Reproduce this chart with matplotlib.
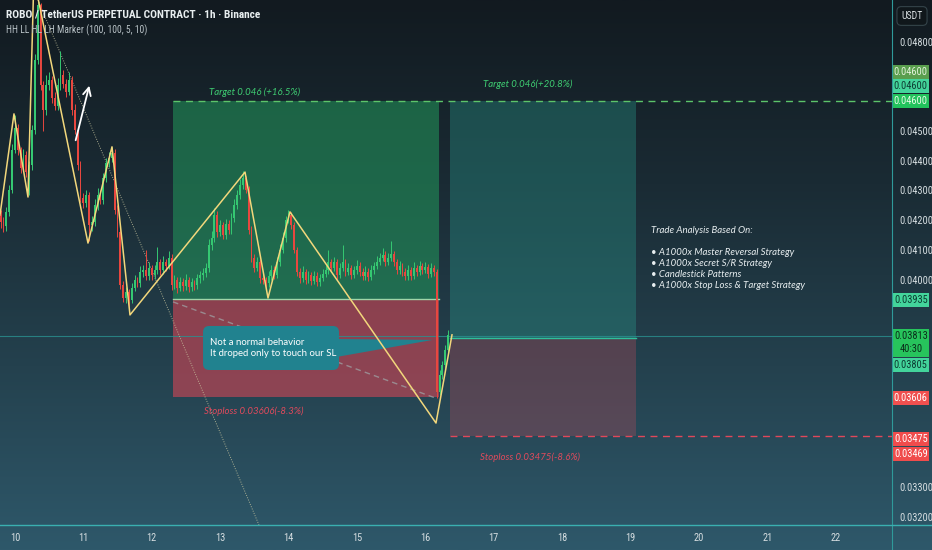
import numpy as np
import matplotlib
matplotlib.use("Agg")
import matplotlib.pyplot as plt
from matplotlib import font_manager
from matplotlib.patches import Rectangle, Polygon, FancyBboxPatch
from matplotlib.lines import Line2D
from matplotlib.colors import LinearSegmentedColormap

# ---------------- data ----------------
# hourly candles, prices in 1e-5 USDT, first candle at day 9.79 of the month
start_day = 9.79
first_open = 4218
closes = [4194, 4180, 4228, 4302, 4436, 4510, 4436, 4376, 4420, 4362,
          4386, 4504, 4739, 4925, 4655, 4571, 4655, 4672, 4611, 4585,
          4655, 4689, 4659, 4632, 4672, 4571, 4504, 4386, 4275, 4258,
          4285, 4184, 4194, 4251, 4285, 4268, 4342, 4393, 4409, 4426,
          4234, 4160, 3982, 3938, 3958, 3931, 3972, 3999, 3989, 4026,
          4032, 4012, 4039, 4015, 4032, 4059, 4032, 4059, 4046, 4073,
          3982, 3999, 3972, 3992, 3978, 3999, 3975, 3992, 3982, 4005,
          4015, 4022, 4039, 4117, 4140, 4218, 4160, 4184, 4150, 4187,
          4167, 4207, 4251, 4285, 4319, 4342, 4302, 4167, 4073, 4039,
          4059, 4005, 3999, 3989, 4012, 4032, 4015, 4059, 4100, 4140,
          4201, 4218, 4184, 4100, 4026, 4005, 4026, 3999, 4015, 3995,
          4012, 3992, 4005, 4019, 4032, 4059, 4039, 4059, 4015, 4039,
          4059, 4026, 4039, 4015, 4032, 4046, 4026, 4012, 4026, 4009,
          4032, 4046, 4059, 4073, 4083, 4059, 4073, 4086, 4059, 4032,
          4046, 4026, 4012, 4032, 4012, 4039, 4026, 4046, 4032, 4042,
          4019, 4039, 4026, 3622, 3679, 3712, 3763, 3813]
highs = [4235, 4210, 4245, 4320, 4455, 4555, 4525, 4448, 4440, 4432,
         4400, 4520, 4760, 4945, 4930, 4670, 4690, 4700, 4685, 4630,
         4680, 4770, 4705, 4675, 4700, 4685, 4590, 4515, 4400, 4290,
         4300, 4295, 4215, 4270, 4310, 4300, 4360, 4410, 4430, 4445,
         4440, 4250, 4175, 3995, 3975, 3970, 3990, 4015, 4010, 4045,
         4050, 4100, 4060, 4050, 4050, 4110, 4070, 4080, 4070, 4095,
         4085, 4015, 4010, 4010, 4005, 4020, 4010, 4005, 4000, 4020,
         4030, 4040, 4055, 4135, 4165, 4240, 4230, 4200, 4195, 4205,
         4200, 4225, 4270, 4300, 4340, 4365, 4350, 4315, 4180, 4085,
         4075, 4070, 4020, 4010, 4030, 4050, 4045, 4075, 4120, 4160,
         4215, 4235, 4228, 4195, 4110, 4040, 4045, 4035, 4030, 4025,
         4030, 4025, 4020, 4035, 4050, 4100, 4070, 4075, 4068, 4055,
         4115, 4070, 4055, 4050, 4045, 4065, 4058, 4040, 4045, 4038,
         4050, 4060, 4080, 4090, 4105, 4095, 4090, 4130, 4095, 4070,
         4062, 4055, 4038, 4050, 4042, 4058, 4050, 4062, 4055, 4058,
         4052, 4055, 4048, 4035, 3695, 3725, 3780, 3830]
lows = [4175, 4160, 4165, 4215, 4290, 4425, 4420, 4360, 4365, 4345,
        4285, 4370, 4490, 4725, 4640, 4500, 4555, 4640, 4595, 4570,
        4570, 4640, 4645, 4615, 4620, 4555, 4490, 4370, 4260, 4240,
        4245, 4130, 4165, 4180, 4235, 4255, 4255, 4330, 4380, 4395,
        4220, 4145, 3968, 3925, 3920, 3905, 3920, 3960, 3975, 3975,
        4010, 3998, 4000, 4000, 4002, 4018, 4015, 4020, 4030, 4035,
        3965, 3968, 3955, 3960, 3962, 3965, 3958, 3962, 3965, 3970,
        3990, 4000, 4008, 4025, 4100, 4125, 4145, 4148, 4135, 4138,
        4152, 4155, 4195, 4238, 4270, 4305, 4290, 4155, 4060, 4025,
        4028, 3990, 3985, 3965, 3975, 4000, 4002, 4005, 4045, 4088,
        4128, 4190, 4170, 4088, 4012, 3990, 3992, 3985, 3988, 3982,
        3985, 3978, 3980, 3995, 4008, 4020, 4025, 4028, 4002, 4005,
        4028, 4012, 4015, 4002, 4005, 4020, 4012, 3998, 4000, 3995,
        3998, 4020, 4035, 4048, 4062, 4045, 4048, 4062, 4045, 4018,
        4020, 4012, 3998, 4000, 3998, 4002, 4012, 4015, 4020, 4022,
        4005, 4008, 4012, 3602, 3610, 3665, 3700, 3750]

# HH LL HL LH zigzag swing points
zz_days = [9.781, 9.985, 10.190, 10.276, 11.067, 11.418, 11.681,
           13.363, 13.699, 14.020, 16.155, 16.389]
zz_prices = [0.04218, 0.04558, 0.04278, 0.05016, 0.04123, 0.04447, 0.03881,
             0.04362, 0.03938, 0.04228, 0.03517, 0.03814]

# long position tools
pos1_days = (12.31, 16.20)
pos1_entry, pos1_target, pos1_stop = 0.03935, 0.046, 0.03606
pos2_days = (16.36, 19.08)
pos2_entry, pos2_target, pos2_stop = 0.03805, 0.046, 0.03475
last_price = 0.03810
countdown = "40:30"

# other drawings
trend_days = (10.336, 13.567)
trend_prices = (0.049414, 0.031737)
diag_days = (12.31, 16.15)
diag_prices = (0.03925, 0.03601)
arrow_days = (10.877, 11.096)
arrow_prices = (0.04460, 0.04662)

# price scale tags
tag_values = [0.046, 0.046, 0.046, 0.03935, 0.03813, 0.03805, 0.03606, 0.03475, 0.03469]
tag_extra = ["", "", "", "", countdown, "", "", "", ""]

day_ticks = list(range(10, 23))
price_ticks = [0.032, 0.033, 0.034, 0.035, 0.036, 0.037, 0.038, 0.039, 0.040,
               0.041, 0.042, 0.043, 0.044, 0.045, 0.046, 0.047, 0.048]

title = "ROBO / TetherUS PERPETUAL CONTRACT \u00b7 1h \u00b7 Binance"
indicator = "HH LL HL LH Marker (100, 100, 5, 10)"
callout = "Not a normal behavior\nIt droped only to touch our SL"
analysis = ("Trade Analysis Based On:\n\n"
            "\u2022 A1000x Master Reversal Strategy\n"
            "\u2022 A1000x Secret S/R Strategy\n"
            "\u2022 Candlestick Patterns\n"
            "\u2022 A1000x Stop Loss & Target Strategy")

# ---------------- style ----------------
names = {f.name for f in font_manager.fontManager.ttflist}


def pick(*cands):
    for c in cands:
        if c in names:
            return c
    return "DejaVu Sans"


NARROW = pick("Liberation Sans Narrow", "Roboto Condensed", "Open Sans Condensed", "Roboto")
SANS = pick("Lato", "Open Sans", "DejaVu Sans")

GREEN = "#35c872"
RED = "#e8473f"
W, H = 932, 550
X0, X1 = 9.7807, 22.822
Y0, Y1 = 0.031737, 0.049414
ppp = (Y1 - Y0) / 525.0   # price per pixel

fig = plt.figure(figsize=(W / 100, H / 100), dpi=100)

bg = fig.add_axes([0, 0, 1, 1], zorder=-5)
grad = np.linspace(0, 1, 256).reshape(-1, 1)
cmap = LinearSegmentedColormap.from_list("tv", ["#121a20", "#1a2b34", "#24414e", "#2e586a"])
bg.imshow(grad, aspect="auto", cmap=cmap, extent=[0, 1, 0, 1], origin="upper")
bg.axis("off")

ax = fig.add_axes([0, 25 / H, 892 / W, 525 / H])
ax.patch.set_alpha(0)
ax.set_xlim(X0, X1)
ax.set_ylim(Y0, Y1)

# position 1
x0, x1 = pos1_days
ax.add_patch(Rectangle((x0, pos1_entry), x1 - x0, pos1_target - pos1_entry,
                       fc="#22995c", alpha=0.55, lw=0, zorder=1))
ax.add_patch(Rectangle((x0, pos1_stop), x1 - x0, pos1_entry - pos1_stop,
                       fc="#d44656", alpha=0.6, lw=0, zorder=1))
ax.plot([x0, x1], [pos1_entry, pos1_entry], color="#9fd6a8", lw=1, zorder=2)
ax.plot([x0, X1], [pos1_target, pos1_target], color="#5cc46a", lw=1,
        ls=(0, (5, 4)), zorder=2)

# position 2
x0, x1 = pos2_days
ax.add_patch(Rectangle((x0, pos2_entry), x1 - x0, pos2_target - pos2_entry,
                       fc="#2a9d8f", alpha=0.35, lw=0, zorder=1))
ax.add_patch(Rectangle((x0, pos2_stop), x1 - x0, pos2_entry - pos2_stop,
                       fc="#b04a5a", alpha=0.35, lw=0, zorder=1))
ax.plot([x0, x1], [pos2_entry, pos2_entry], color="#2fbf9a", lw=1, zorder=2)
ax.plot([x0, X1], [pos2_stop, pos2_stop], color="#e0485a", lw=1,
        ls=(0, (5, 4)), zorder=2)

# current price line
ax.axhline(last_price, color="#2a9090", lw=0.8, alpha=0.8, zorder=2)

# trend line and dashed diagonal
ax.plot(trend_days, trend_prices, color="#c9c7a0", lw=0.7, ls=(0, (1, 1.5)), alpha=0.8, zorder=3)
ax.plot(diag_days, diag_prices, color="#a0a8aa", lw=1, ls=(0, (4, 3)), alpha=0.7, zorder=3)

# candles
o = np.array([first_open] + closes[:-1]) / 1e5
c = np.array(closes) / 1e5
h = np.array(highs) / 1e5
lo = np.array(lows) / 1e5
t = start_day + np.arange(len(c)) / 24
col = np.where(c >= o, GREEN, RED)
ax.vlines(t, lo, h, colors=col, lw=0.7, zorder=4)
ax.bar(t, np.maximum(np.abs(c - o), 0.00002), bottom=np.minimum(o, c),
       width=0.65 / 24, color=col, lw=0, zorder=5)

# callout
ax.add_patch(Polygon([(14.69, 0.03800), (16.11, 0.03797), (14.69, 0.03739)],
                     closed=True, fc="#21828f", ec="none", zorder=6))
ax.add_patch(FancyBboxPatch((12.749, 0.036956), 14.737 - 12.749, 0.038438 - 0.036956,
                            boxstyle="round,pad=0,rounding_size=0.09",
                            mutation_aspect=0.0023, fc="#21828f", ec="none", zorder=6))
ax.text(12.85, 0.03770, callout, color="white", fontsize=6.9, family=SANS,
        va="center", ha="left", linespacing=1.3, zorder=7)

# zigzag and arrow
ax.plot(zz_days, zz_prices, color="#f2d77c", lw=1.1, zorder=8)
ax.annotate("", xy=(arrow_days[1], arrow_prices[1]), xytext=(arrow_days[0], arrow_prices[0]),
            arrowprops=dict(arrowstyle="->", color="white", lw=1.3, mutation_scale=14),
            zorder=8)

# labels of the position tools
lab = dict(fontsize=6.9, family=SANS, style="italic", va="center", ha="left", zorder=8)
ax.text(12.836, 0.046316, "Target 0.046 (+16.5%)", color="#3fcf73", **lab)
ax.text(16.842, 0.046586, "Target 0.046(+20.8%)", color="#3fcf73", **lab)
ax.text(12.763, 0.035576, "Stoploss 0.03606(-8.3%)", color="#e04a5c", **lab)
ax.text(16.798, 0.034027, "Stoploss 0.03475(-8.6%)", color="#e04a5c", **lab)
ax.text(19.298, 0.04182, analysis, color="#e8eef0", fontsize=6.9, family=SANS,
        style="italic", va="top", ha="left", linespacing=1.3, zorder=8)

# price scale tags: pixel layout of each tag (top, bottom) from its value
tag_bg = ["#5a9e4e", "#43d49b", "#22c35c", "#43d49b", "#27c45c", "#43d49b",
          "#f0504f", "#f04c4c", "#f04c4c"]
tag_fg = ["#e4f2dc", "#0e3d33", "#e6fbe6", "#0b3a30", "#0a2d1a", "#0b3a30",
          "#ffffff", "#ffffff", "#ffffff"]
tag_shift = [-29.5, -15, 0, 1, 1, 27, 1, 3.5, 17]
tag_boxes = []
for v, extra, sh in zip(tag_values, tag_extra, tag_shift):
    top = (Y1 - v) / ppp + sh - 7
    tag_boxes.append((top, top + 14 * (2 if extra else 1)))

# axes look
for s in ["top", "left", "right", "bottom"]:
    ax.spines[s].set_visible(False)
ax.set_xticks(day_ticks)
ax.set_xticklabels([str(d) for d in day_ticks])
ax.yaxis.tick_right()
ax.set_yticks(price_ticks)
ylabels = []
for p in price_ticks:
    ypx = (Y1 - p) / ppp
    hidden = any(tb - 4 < ypx < bb + 4 for tb, bb in tag_boxes)
    ylabels.append("" if hidden else "%.5f" % p)
ax.set_yticklabels(ylabels)
ax.tick_params(axis="both", length=0, colors="#d5dde0", labelsize=7.5)
ax.tick_params(axis="x", pad=6)
ax.tick_params(axis="y", pad=5)
for lb in ax.get_xticklabels() + ax.get_yticklabels():
    lb.set_family(NARROW)

fig.add_artist(Line2D([892 / W, 892 / W], [0, 1], transform=fig.transFigure,
                      color="#2f9a9a", lw=0.8))
fig.add_artist(Line2D([0, 1], [25 / H, 25 / H], transform=fig.transFigure,
                      color="#3ab0b0", lw=1))

axr = fig.add_axes([892 / W, 25 / H, 40 / W, 525 / H])
axr.set_xlim(0, 1)
axr.set_ylim(Y0, Y1)
axr.axis("off")
for v, extra, b, f, (top, bot) in zip(tag_values, tag_extra, tag_bg, tag_fg, tag_boxes):
    axr.add_patch(Rectangle((0.02, Y1 - bot * ppp), 0.9, (bot - top) * ppp,
                            fc=b, ec="none", clip_on=False))
    lines = ["%.5f" % v] + ([extra] if extra else [])
    for k, s in enumerate(lines):
        axr.text(0.47, Y1 - (top + 7 + 13 * k) * ppp, s, color=f, fontsize=7.5,
                 family=NARROW, ha="center", va="center")

fig.text(912 / W, 1 - 16 / H, "USDT", color="#d8dee0", fontsize=7, family=NARROW,
         ha="center", va="center",
         bbox=dict(boxstyle="round,pad=0.45", fc="#10171b", ec="#34444a", lw=0.8))

fig.text(6 / W, 1 - 15 / H, title, color="#e8eef0", fontsize=8.2, family=NARROW,
         weight="bold", ha="left", va="center")
fig.text(6 / W, 1 - 30 / H, indicator, color="#b8c2c6", fontsize=6.9, family=NARROW,
         ha="left", va="center")

fig.savefig("out.png", dpi=100)
